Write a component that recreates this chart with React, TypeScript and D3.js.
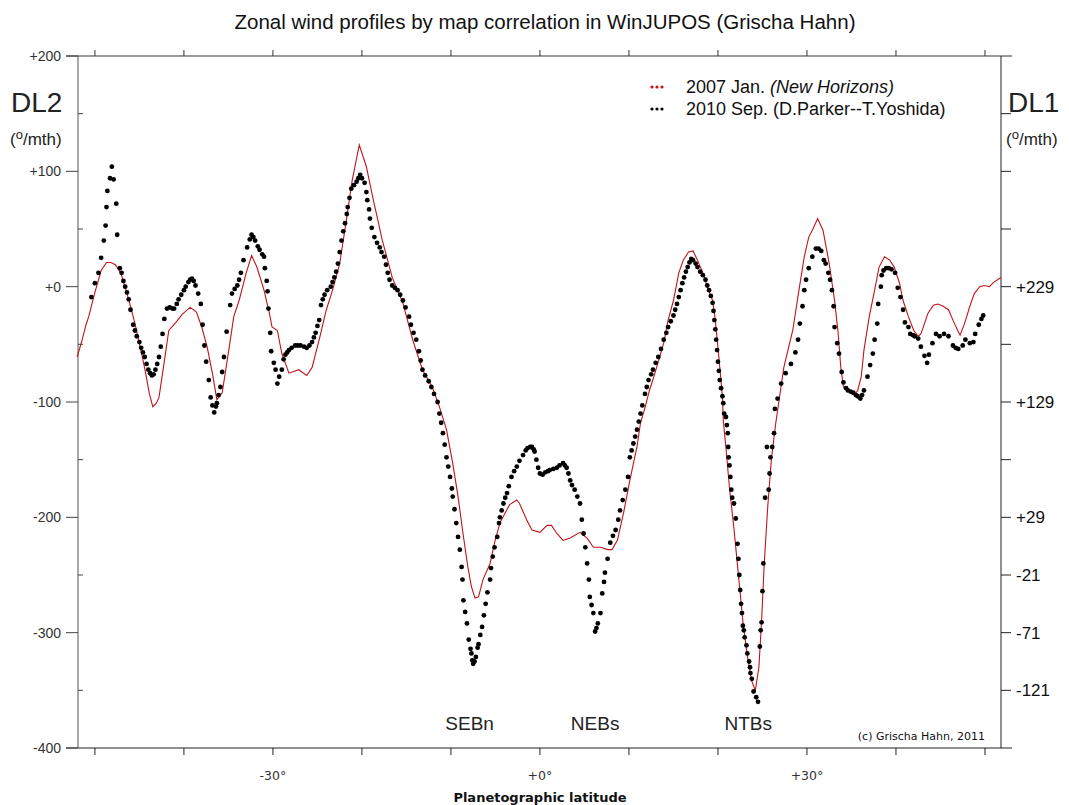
import * as d3 from "d3";

// 2007 Jan. (New Horizons) – latitude (deg), drift DL2 (deg/month)
const redProfile: [number, number][] = [
  [-52.0, -61], [-51.5, -48], [-51.0, -33], [-50.7, -26], [-50.0, -5], [-49.3, 14], [-48.7, 21],
  [-48.2, 21], [-47.7, 19], [-47.1, 12], [-46.5, -3], [-46.0, -17], [-45.5, -32], [-45.1, -46],
  [-44.7, -60], [-44.3, -75], [-43.9, -92], [-43.5, -104], [-43.1, -101], [-42.8, -96], [-42.3, -70],
  [-41.7, -38], [-40.9, -31], [-40.2, -24], [-39.3, -18], [-38.6, -22], [-38.0, -35], [-37.4, -52],
  [-36.8, -75], [-36.3, -98], [-35.7, -92], [-34.9, -52], [-34.4, -26], [-33.8, -12], [-33.0, 12],
  [-32.4, 27], [-31.8, 17], [-31.0, -3], [-30.4, -23], [-30.1, -35], [-29.5, -38], [-29.0, -58],
  [-28.2, -75], [-27.1, -72], [-26.2, -77], [-25.6, -70], [-24.8, -46], [-24.0, -20], [-23.3, -3],
  [-22.5, 20], [-21.8, 55], [-21.1, 92], [-20.3, 123], [-19.5, 104], [-18.8, 78], [-17.7, 40],
  [-16.6, 8], [-15.4, -14], [-14.3, -46], [-13.2, -72], [-12.1, -87], [-11.3, -104], [-10.5, -124],
  [-9.8, -153], [-9.2, -182], [-8.7, -211], [-8.1, -243], [-7.7, -260], [-7.3, -270], [-6.9, -269],
  [-6.4, -254], [-5.6, -240], [-5.1, -222], [-4.5, -205], [-3.9, -196], [-3.4, -189], [-2.6, -185],
  [-2.3, -188], [-1.5, -202], [-0.9, -211], [0.0, -213], [0.8, -207], [1.3, -207], [1.9, -214],
  [2.6, -220], [3.4, -218], [4.5, -213], [5.3, -218], [6.0, -226], [6.8, -226], [7.6, -228],
  [8.1, -228], [8.7, -220], [9.4, -196], [10.1, -168], [10.9, -139], [11.3, -118], [11.8, -105],
  [12.3, -90], [12.8, -78], [13.3, -65], [13.9, -49], [14.4, -29], [15.0, -12], [15.6, 12],
  [16.1, 23], [16.7, 30], [17.2, 31], [17.7, 23], [18.3, 12], [18.8, 0], [19.4, -12], [19.7, -29],
  [20.1, -61], [20.5, -95], [20.6, -116], [20.9, -140], [21.3, -175], [21.8, -210], [22.3, -250],
  [22.8, -290], [23.3, -320], [23.8, -342], [24.2, -350], [24.6, -330], [24.9, -290], [25.2, -240],
  [25.6, -190], [26.0, -150], [26.5, -118], [27.4, -70], [28.4, -38], [29.1, -3], [29.7, 26],
  [30.2, 43], [30.6, 49], [31.2, 59], [31.8, 49], [32.5, 20], [33.1, -12], [33.5, -40], [33.8, -70],
  [34.1, -87], [34.7, -91], [35.3, -94], [35.7, -90], [36.1, -78], [36.4, -55], [37.0, -26],
  [37.6, -3], [38.1, 17], [38.7, 26], [39.3, 23], [39.8, 17], [40.4, 3], [40.8, -12], [41.4, -26],
  [42.0, -38], [42.5, -43], [42.8, -41], [43.2, -32], [43.6, -23], [44.2, -16], [44.7, -15],
  [45.3, -17], [45.9, -20], [46.4, -29], [47.0, -39], [47.2, -42], [47.7, -32], [48.3, -17],
  [48.8, -6], [49.4, 0], [49.9, 1], [50.5, 0], [51.0, 4], [51.8, 8],
];

// 2010 Sep. (D.Parker--T.Yoshida)
const blackProfile: [number, number][] = [
  [-50.4, -9], [-50.0, 3], [-49.6, 12], [-49.3, 25], [-49.0, 40], [-48.8, 53], [-48.7, 69],
  [-48.6, 83], [-48.3, 94], [-48.1, 104], [-47.9, 93], [-47.6, 72], [-47.5, 45], [-47.2, 16],
  [-47.0, 12], [-46.8, 5], [-46.6, 0], [-46.4, -5], [-46.2, -11], [-46.0, -20], [-45.7, -33],
  [-45.5, -38], [-45.3, -43], [-45.0, -48], [-44.8, -53], [-44.6, -57], [-44.4, -61], [-44.2, -67],
  [-44.0, -72], [-43.8, -75], [-43.6, -77], [-43.4, -76], [-43.2, -72], [-43.0, -67], [-42.8, -61],
  [-42.6, -52], [-42.4, -41], [-42.2, -28], [-41.9, -19], [-41.6, -18], [-41.3, -19], [-41.1, -19],
  [-40.8, -15], [-40.6, -11], [-40.3, -7], [-40.0, -3], [-39.8, 0], [-39.5, 4], [-39.3, 6],
  [-39.1, 7], [-38.9, 5], [-38.7, 1], [-38.4, -6], [-38.1, -15], [-37.9, -33], [-37.7, -51],
  [-37.5, -65], [-37.2, -81], [-37.0, -96], [-36.8, -103], [-36.6, -109], [-36.4, -104],
  [-36.3, -101], [-36.1, -94], [-35.9, -87], [-35.7, -74], [-35.5, -61], [-35.2, -39], [-34.8, -16],
  [-34.6, -6], [-34.3, -2], [-34.0, 1], [-33.8, 6], [-33.6, 12], [-33.3, 23], [-32.9, 34],
  [-32.6, 41], [-32.4, 45], [-32.2, 43], [-32.0, 40], [-31.7, 35], [-31.5, 32], [-31.2, 28],
  [-31.0, 26], [-30.9, 16], [-30.7, 5], [-30.6, -4], [-30.5, -19], [-30.3, -40], [-30.2, -56],
  [-29.9, -66], [-29.7, -72], [-29.5, -84], [-29.3, -78], [-29.0, -72], [-28.8, -63], [-28.6, -59],
  [-28.4, -57], [-28.2, -55], [-27.9, -53], [-27.5, -51], [-27.2, -51], [-26.9, -51], [-26.5, -52],
  [-26.2, -53], [-25.9, -51], [-25.6, -48], [-25.4, -44], [-25.2, -40], [-25.0, -34], [-24.8, -29],
  [-24.6, -16], [-24.4, -11], [-24.2, -7], [-23.9, -3], [-23.5, 0], [-23.3, 4], [-23.1, 8],
  [-22.9, 13], [-22.7, 20], [-22.5, 30], [-22.3, 40], [-22.1, 48], [-21.9, 55], [-21.7, 63],
  [-21.6, 69], [-21.4, 77], [-21.2, 85], [-20.9, 88], [-20.6, 91], [-20.4, 94], [-20.2, 97],
  [-20.0, 94], [-19.7, 90], [-19.5, 82], [-19.4, 75], [-19.2, 67], [-19.1, 59], [-18.9, 51],
  [-18.6, 43], [-18.3, 38], [-18.0, 34], [-17.8, 30], [-17.5, 26], [-17.3, 19], [-17.1, 12],
  [-16.9, 6], [-16.6, 1], [-16.3, -1], [-16.0, -3], [-15.7, -7], [-15.4, -12], [-15.1, -18],
  [-14.7, -26], [-14.5, -33], [-14.2, -40], [-13.9, -46], [-13.6, -56], [-13.4, -64], [-13.2, -72],
  [-12.9, -77], [-12.5, -82], [-12.2, -87], [-11.9, -93], [-11.5, -100], [-11.3, -110],
  [-11.1, -118], [-10.9, -127], [-10.7, -137], [-10.5, -148], [-10.3, -156], [-10.1, -165],
  [-9.9, -175], [-9.8, -182], [-9.6, -193], [-9.4, -205], [-9.2, -217], [-9.0, -228], [-8.8, -243],
  [-8.7, -254], [-8.6, -272], [-8.4, -282], [-8.2, -292], [-8.0, -306], [-7.8, -314], [-7.7, -318],
  [-7.6, -324], [-7.5, -327], [-7.35, -325], [-7.2, -321], [-7.0, -313], [-6.9, -310], [-6.7, -302],
  [-6.5, -295], [-6.3, -285], [-6.1, -275], [-5.9, -265], [-5.6, -254], [-5.5, -244], [-5.3, -234],
  [-5.1, -226], [-4.8, -217], [-4.6, -205], [-4.5, -200], [-4.3, -194], [-4.1, -188], [-3.9, -183],
  [-3.7, -179], [-3.5, -173], [-3.2, -165], [-2.9, -160], [-2.6, -156], [-2.3, -151], [-1.9, -146],
  [-1.6, -142], [-1.4, -140], [-1.1, -139], [-0.9, -139], [-0.7, -141], [-0.6, -143], [-0.4, -150],
  [-0.2, -157], [0.0, -162], [0.3, -163], [0.6, -161], [0.9, -160], [1.1, -159], [1.5, -158],
  [1.9, -157], [2.2, -155], [2.6, -153], [2.8, -155], [3.0, -157], [3.2, -162], [3.4, -168],
  [3.6, -172], [3.9, -176], [4.2, -182], [4.5, -188], [4.7, -202], [4.9, -214], [5.1, -226],
  [5.3, -240], [5.5, -254], [5.6, -269], [5.8, -276], [6.0, -283], [6.2, -299], [6.35, -296],
  [6.5, -292], [6.8, -283], [7.0, -266], [7.2, -256], [7.3, -248], [7.6, -236], [7.9, -222],
  [8.2, -216], [8.5, -211], [8.8, -202], [9.0, -194], [9.3, -185], [9.6, -176], [9.9, -165],
  [10.1, -148], [10.3, -142], [10.5, -136], [10.7, -130], [10.9, -124], [11.1, -117], [11.3, -110],
  [11.5, -103], [11.8, -93], [12.0, -87], [12.2, -81], [12.5, -76], [12.7, -72], [13.0, -66],
  [13.3, -61], [13.6, -54], [13.9, -46], [14.2, -40], [14.4, -35], [14.7, -30], [15.0, -25],
  [15.2, -20], [15.4, -15], [15.6, -9], [15.8, -3], [16.0, 3], [16.2, 8], [16.4, 13], [16.6, 17],
  [16.8, 21], [17.0, 24], [17.2, 23], [17.5, 20], [17.7, 17], [18.0, 13], [18.3, 10], [18.6, 6],
  [18.8, 1], [19.0, -3], [19.2, -8], [19.4, -14], [19.5, -21], [19.6, -29], [19.7, -37],
  [19.8, -46], [19.9, -55], [20.0, -65], [20.1, -73], [20.2, -81], [20.35, -88], [20.5, -95],
  [20.6, -101], [20.7, -110], [20.9, -113], [21.0, -120], [21.1, -127], [21.15, -139], [21.2, -148],
  [21.3, -155], [21.4, -165], [21.5, -176], [21.6, -183], [21.8, -188], [22.0, -201], [22.2, -223],
  [22.3, -236], [22.4, -250], [22.5, -263], [22.6, -275], [22.7, -283], [22.8, -294], [22.9, -298],
  [23.0, -304], [23.2, -311], [23.3, -318], [23.5, -325], [23.6, -330], [23.65, -335], [23.8, -340],
  [24.0, -351], [24.3, -356], [24.5, -360], [24.7, -312], [24.8, -298], [24.9, -291], [25.0, -264],
  [25.1, -240], [25.3, -183], [25.5, -139], [25.7, -176], [25.8, -162], [25.9, -148], [26.1, -139],
  [26.3, -127], [26.4, -106], [26.7, -97], [27.1, -84], [27.6, -75], [28.2, -67], [28.7, -57],
  [29.0, -46], [29.2, -32], [29.5, -17], [29.7, -3], [29.9, 6], [30.2, 16], [30.6, 26], [31.0, 33],
  [31.3, 33], [31.6, 31], [31.9, 23], [32.1, 20], [32.4, 12], [32.6, 6], [32.8, -3], [33.0, -17],
  [33.1, -35], [33.4, -49], [33.6, -58], [33.9, -74], [34.1, -83], [34.4, -88], [34.6, -90],
  [34.9, -91], [35.2, -92], [35.5, -94], [35.7, -95], [36.0, -97], [36.2, -94], [36.4, -90],
  [36.8, -78], [37.1, -68], [37.4, -58], [37.6, -46], [37.9, -32], [38.0, -15], [38.3, 0],
  [38.4, 10], [38.6, 14], [38.9, 16], [39.2, 16], [39.5, 15], [39.9, 12], [40.2, -1], [40.5, -9],
  [40.8, -20], [41.0, -31], [41.4, -35], [41.6, -41], [41.9, -42], [42.1, -43], [42.5, -45],
  [42.8, -52], [43.2, -60], [43.5, -66], [43.7, -59], [44.1, -49], [44.5, -41], [44.9, -43],
  [45.4, -41], [45.9, -43], [46.4, -51], [46.7, -53], [47.0, -54], [47.5, -51], [47.8, -46],
  [48.3, -49], [48.7, -48], [48.9, -41], [49.3, -33], [49.6, -28], [49.8, -25],
];

const leftLabels = [200, 100, 0, -100, -200, -300, -400];
const leftMinor = [150, 50, -50, -150, -250, -350];
const rightTicks = [150, 100, 50, 0, -50, -100, -150, -200, -250, -300, -350];
const rightLabels = [229, 129, 29, -21, -71, -121];
const dlOffset = 229;
const latTicks = [-50, -40, -30, -20, -10, 0, 10, 20, 30, 40, 50];
const latLabels = [-30, 0, 30];
const bandNames = ["SEBn", "NEBs", "NTBs"];
const bandLats = [-7.9, 6.2, 23.4];
const seriesColors = ["#c0141c", "#000000"];

const sign = (v: number) => (v > 0 ? `+${v}` : v === 0 ? "+0" : `${v}`);

export default function App() {
  const x = d3.scaleLinear().domain([-51.9, 51.8]).range([78, 1001]);
  const y = d3.scaleLinear().domain([-400, 200]).range([748, 56]);
  const left = 78, right = 1001, top = 56, bottom = 748;

  const line = d3
    .line<[number, number]>()
    .x(d => x(d[0]))
    .y(d => y(d[1]));

  const sans = "'Liberation Sans', Arial, sans-serif";
  const tahoma = "'DejaVu Sans', Verdana, sans-serif";

  return (
    <svg
      width={1069}
      height={805}
      style={{ position: "absolute", left: 0, top: 0, background: "#fff" }}
      fontFamily={sans}
    >
      <rect width={1069} height={805} fill="#fff" />
      <text x={545} y={29} textAnchor="middle" fontSize={20.5} fill="#111">
        Zonal wind profiles by map correlation in WinJUPOS (Grischa Hahn)
      </text>

      {/* frame lines */}
      <line x1={66} x2={1012} y1={top} y2={top} stroke="#333" />
      <line x1={66} x2={1012} y1={bottom} y2={bottom} stroke="#222" />
      <line x1={left} x2={left} y1={top} y2={bottom} stroke="#555" />
      <line x1={right} x2={right} y1={top} y2={bottom} stroke="#222" />

      {/* left axis */}
      {leftLabels.map(v => (
        <g key={v}>
          <line x1={66} x2={left} y1={y(v)} y2={y(v)} stroke="#444" />
          <text x={61} y={y(v) + 5} textAnchor="end" fontSize={14} fill="#333">
            {sign(v)}
          </text>
        </g>
      ))}
      {leftMinor.map(v => (
        <line key={v} x1={left} x2={left + 5} y1={y(v)} y2={y(v)} stroke="#444" />
      ))}

      {/* right axis (DL1 = DL2 + 229) */}
      {rightTicks.map(v => (
        <line key={v} x1={right} x2={right + 10} y1={y(v)} y2={y(v)} stroke="#222" />
      ))}
      {rightLabels.map(v => (
        <text key={v} x={1016} y={y(v - dlOffset) + 6} fontSize={17} fill="#111">
          {v > 0 ? `+${v}` : `${v}`}
        </text>
      ))}

      {/* latitude ticks */}
      {latTicks.map(t => (
        <g key={t}>
          <line x1={x(t)} x2={x(t)} y1={bottom} y2={bottom + 7} stroke="#222" />
          <line x1={x(t)} x2={x(t)} y1={top} y2={top - 6} stroke="#333" />
        </g>
      ))}
      {latLabels.map(t => (
        <text key={t} x={x(t)} y={780} textAnchor="middle" fontSize={12.5} fontFamily={tahoma} fill="#333">
          {t > 0 ? `+${t}°` : t === 0 ? "+0°" : `${t}°`}
        </text>
      ))}
      <text x={540} y={802} textAnchor="middle" fontSize={13} fontWeight="bold" fontFamily={tahoma} fill="#111">
        Planetographic latitude
      </text>

      {/* axis titles */}
      <text x={11} y={112} fontSize={28} fill="#222">DL2</text>
      <text x={10} y={145} fontSize={17} fill="#222">
        (<tspan dy={-6} fontSize={13}>o</tspan>
        <tspan dy={6}>/mth)</tspan>
      </text>
      <text x={1008} y={112} fontSize={28} fill="#222">DL1</text>
      <text x={1006} y={145} fontSize={17} fill="#222">
        (<tspan dy={-6} fontSize={13}>o</tspan>
        <tspan dy={6}>/mth)</tspan>
      </text>

      {/* data */}
      <path d={line(redProfile) ?? ""} fill="none" stroke={seriesColors[0]} strokeWidth={1.1} />
      {blackProfile.map((d, i) => (
        <circle key={i} cx={x(d[0])} cy={y(d[1])} r={2.4} fill={seriesColors[1]} />
      ))}

      {/* legend */}
      {[0, 1].map(k => (
        <g key={k}>
          {[0, 1, 2].map(j => (
            <circle key={j} cx={652 + j * 5} cy={87 + k * 22} r={1.6} fill={seriesColors[k]} />
          ))}
        </g>
      ))}
      <text x={686} y={93} fontSize={18} fill="#111">
        2007 Jan. <tspan fontStyle="italic">(New Horizons)</tspan>
      </text>
      <text x={686} y={115} fontSize={18} fill="#111">
        2010 Sep. (D.Parker--T.Yoshida)
      </text>

      {/* belt labels */}
      {bandNames.map((n, i) => (
        <text key={n} x={x(bandLats[i])} y={730} textAnchor="middle" fontSize={19} fill="#222">
          {n}
        </text>
      ))}
      <text x={985} y={740} textAnchor="end" fontSize={11} fontFamily={tahoma} fill="#111">
        (c) Grischa Hahn, 2011
      </text>
    </svg>
  );
}
